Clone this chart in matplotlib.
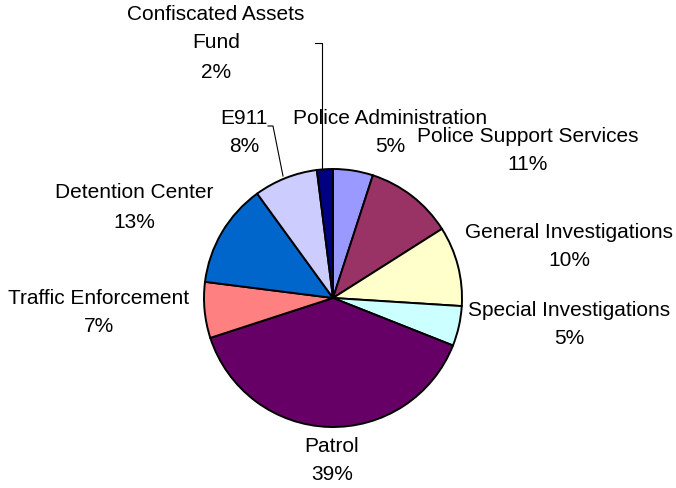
import matplotlib.pyplot as plt

# slices, clockwise from 12 o'clock
names = ['Police Administration', 'Police Support Services', 'General Investigations',
         'Special Investigations', 'Patrol', 'Traffic Enforcement', 'Detention Center',
         'E911', 'Confiscated Assets\nFund']
shares = [5, 11, 10, 5, 39, 7, 13, 8, 2]
colors = ['#9999FF', '#993366', '#FFFFCC', '#CCFFFF', '#660066', '#FF8080',
          '#0066CC', '#CCCCFF', '#000080']

# label anchors in pixels (x, y from top) -- name line first, percentage below
label_pos = [(390, 118), (528, 136), (569, 232), (569, 310), (332, 446),
             (99, 298), (134, 193), (244, 118), (216, 14)]

W, H = 676, 488
fig = plt.figure(figsize=(W / 100, H / 100), dpi=100)
ax = fig.add_axes([0, 0, 1, 1])

ax.pie(shares, colors=colors, startangle=90, counterclock=False,
       center=(333, H - 298), radius=129, frame=True,
       wedgeprops=dict(edgecolor='black', linewidth=1.4))
ax.set_xlim(0, W)
ax.set_ylim(0, H)
ax.set_aspect('equal')
ax.axis('off')

for name, pct, (x, y) in zip(names, shares, label_pos):
    lines = name.split('\n') + ['%d%%' % pct]
    for i, line in enumerate(lines):
        ax.text(x, H - (y + i * 29), line, ha='center', va='center',
                fontsize=15, family='Liberation Sans')

# leader lines for the two small labels
ax.plot([315, 322, 322], [H - 43, H - 43, H - 170], color='black', lw=0.8)
ax.plot([268, 273, 283], [H - 126, H - 126, H - 176], color='black', lw=0.8)

fig.savefig('out.png', dpi=100, facecolor='white')
